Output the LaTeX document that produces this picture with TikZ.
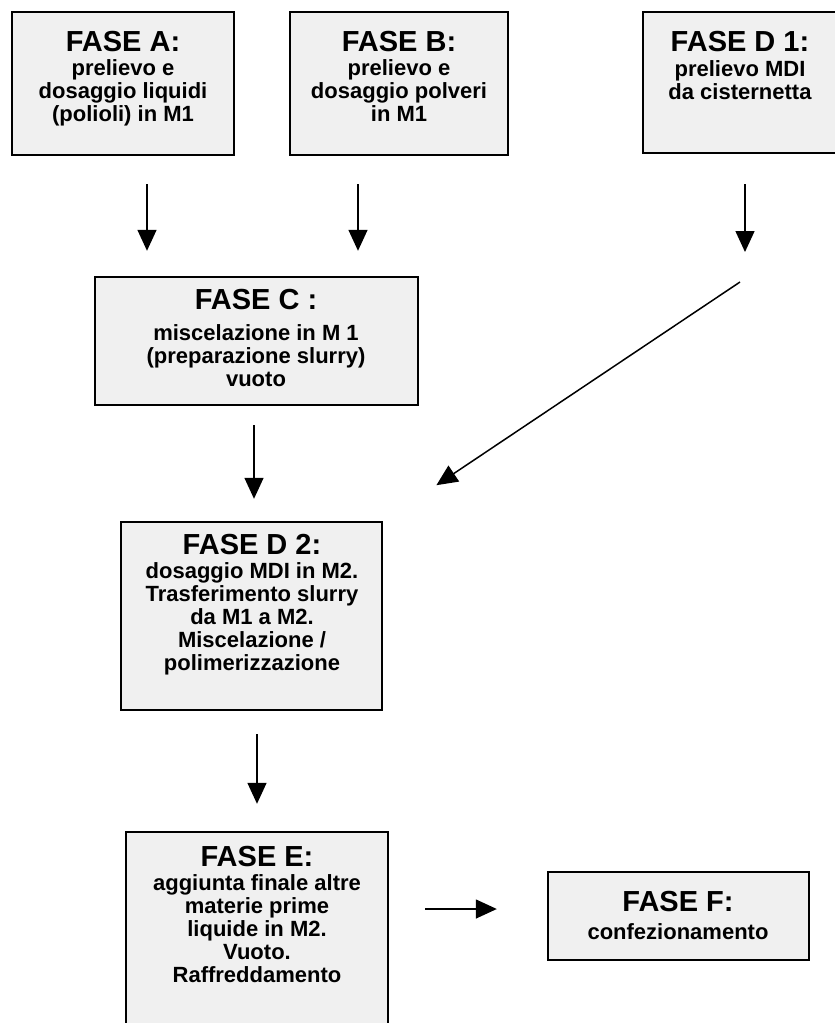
\documentclass[tikz,border=0pt]{standalone}
\usepackage{fontspec}
\setmainfont{Liberation Sans}
\usetikzlibrary{arrows.meta}
\begin{document}
\begin{tikzpicture}[x=1pt,y=-1pt,
  box/.style={draw=black, line width=2.4pt, fill=black!6, inner sep=0pt},
  ttl/.style={font=\fontsize{29}{32}\selectfont\bfseries, inner sep=0pt},
  body/.style={font=\fontsize{22}{23}\selectfont\bfseries, align=center, inner sep=0pt},
  arr/.style={line width=1.5pt, -{Triangle[length=21pt,width=19pt,fill=black]}}]
\useasboundingbox (0,0) rectangle (835,1023);
\clip (0,0) rectangle (835,1023);
% boxes
\node[box, minimum width=222pt, minimum height=143pt] (A) at (123,83.5) {};
\node[box, minimum width=218pt, minimum height=143pt] (B) at (399,83.5) {};
\node[box, minimum width=195pt, minimum height=141pt] (D1) at (740.5,82.5) {};
\node[box, minimum width=323pt, minimum height=128pt] (C) at (256.5,341) {};
\node[box, minimum width=261pt, minimum height=188pt] (D2) at (251.5,616) {};
\node[box, minimum width=262pt, minimum height=208pt] (E) at (257,936) {};
\node[box, minimum width=261pt, minimum height=88pt] (F) at (678.5,916) {};
% texts
\node[ttl] (At) at (123,42) {FASE A:};
\node[body] (Ab) at (123,92.5) {prelievo e\\dosaggio liquidi\\(polioli) in M1};
\node[ttl] (Bt) at (399,42) {FASE B:};
\node[body] (Bb) at (399,91) {prelievo e\\dosaggio polveri\\in M1};
\node[ttl] (D1t) at (740,42) {FASE D 1:};
\node[body] (D1b) at (740,80.5) {prelievo MDI\\da cisternetta};
\node[ttl] (Ct) at (256,300) {FASE C :};
\node[body] (Cb) at (256,356) {miscelazione in M 1\\(preparazione slurry)\\vuoto};
\node[ttl] (D2t) at (252,545) {FASE D 2:};
\node[body] (D2b) at (252,618.5) {dosaggio MDI in M2.\\Trasferimento slurry\\da M1 a M2.\\Miscelazione /\\polimerizzazione};
\node[ttl] (Et) at (257,857) {FASE E:};
\node[body] (Eb) at (257,929) {aggiunta finale altre\\materie prime\\liquide in M2.\\Vuoto.\\Raffreddamento};
\node[ttl] (Ft) at (678,902) {FASE F:};
\node[body] (Fb) at (678,932) {confezionamento};
% helper coordinates
\coordinate (xa) at (147,0);
\coordinate (xb) at (358,0);
\coordinate (xd) at (745,0);
\coordinate (xc) at (254,0);
\coordinate (xe) at (257,0);
\coordinate (yf) at (0,909);
\coordinate (d1end) at (745,252);
\coordinate (j) at (740,282);
% connectors
\draw[arr, shorten <=28pt, shorten >=25pt] (A.south -| xa) -- (C.north -| xa);
\draw[arr, shorten <=28pt, shorten >=25pt] (B.south -| xb) -- (C.north -| xb);
\draw[arr, shorten <=30pt] (D1.south -| xd) -- (d1end);
\draw[arr, shorten >=64pt] (j) -- (D2.north east);
\draw[arr, shorten <=19pt, shorten >=22pt] (C.south -| xc) -- (D2.north -| xc);
\draw[arr, shorten <=23pt, shorten >=27pt] (D2.south -| xe) -- (E.north -| xe);
\draw[arr, shorten <=36pt, shorten >=50pt] (E.east |- yf) -- (F.west |- yf);
\end{tikzpicture}
\end{document}
